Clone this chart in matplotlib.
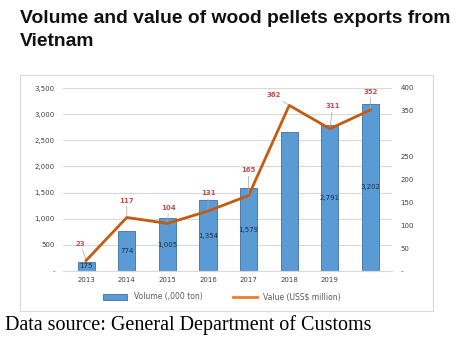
import matplotlib.pyplot as plt
from matplotlib.patches import Rectangle
from matplotlib.lines import Line2D
from matplotlib.patches import Patch

years = ['2013', '2014', '2015', '2016', '2017', '2018', '2019', '2020']
year_labels = ['2013', '2014', '2015', '2016', '2017', '2018', '2019', '']
volume = [175, 774, 1005, 1354, 1579, 2650, 2791, 3202]
volume_labels = ['175', '774', '1,005', '1,354', '1,579', '', '2,791', '3,202']
value = [23, 117, 104, 131, 165, 362, 311, 352]
# label offsets (points) for the value labels
value_offsets = [(-4, 10), (0, 10), (1, 9), (0, 11), (0, 16), (-11, 5), (2, 14), (0, 11)]

left_ticks = [0, 500, 1000, 1500, 2000, 2500, 3000, 3500]
left_tick_labels = ['-', '500', '1,000', '1,500', '2,000', '2,500', '3,000', '3,500']
right_ticks = [0, 50, 100, 150, 200, 250, 350, 400]
right_tick_labels = ['-', '50', '100', '150', '200', '250', '350', '400']

W, H = 463, 344
fig = plt.figure(figsize=(W / 100, H / 100), dpi=100)

def fx(px):
    return px / W

def fy(py):
    return 1 - py / H

fig.text(fx(20), fy(23), 'Volume and value of wood pellets exports from',
         fontsize=13.9, fontweight='bold', family='Liberation Sans',
         va='baseline', ha='left', color='#111111')
fig.text(fx(20), fy(46), 'Vietnam',
         fontsize=13.9, fontweight='bold', family='Liberation Sans',
         va='baseline', ha='left', color='#111111')

# chart border
fig.patches.append(Rectangle((fx(20), fy(311)), fx(433) - fx(20), fy(75) - fy(311),
                             transform=fig.transFigure, fill=False,
                             edgecolor='#d9d9d9', linewidth=0.8))

ax = fig.add_axes([fx(63), fy(271), fx(392) - fx(63), fy(88) - fy(271)])
ax2 = ax.twinx()

x = list(range(len(years)))
bars = ax.bar(x, volume, width=0.42, color='#5b9bd5', edgecolor='#41719c', linewidth=0.6, zorder=2)
ax.set_xlim(-0.57, 7.53)
ax.set_ylim(0, 3500)
ax.set_yticks(left_ticks)
ax.set_yticklabels(left_tick_labels)
ax.set_xticks(x)
ax.set_xticklabels(year_labels)
ax.grid(axis='y', color='#d9d9d9', linewidth=0.8, zorder=0)
ax.set_axisbelow(True)
for s in ['top', 'right', 'left']:
    ax.spines[s].set_visible(False)
ax.spines['bottom'].set_color('#d9d9d9')
ax.tick_params(axis='both', length=0, labelsize=5, colors='#404040', pad=6)
ax.tick_params(axis='x', pad=4)

for xi, v, lab in zip(x, volume, volume_labels):
    if lab:
        ax.text(xi, v / 2, lab, ha='center', va='center', fontsize=5, color='#1f2d3d', zorder=4)

ax2.plot(x, value, color='#c55a11', linewidth=2, zorder=3)
ax2.set_ylim(0, 400)
ax2.set_yticks(right_ticks)
ax2.set_yticklabels(right_tick_labels)
for s in ['top', 'right', 'left', 'bottom']:
    ax2.spines[s].set_visible(False)
ax2.tick_params(axis='y', length=0, labelsize=5, colors='#404040', pad=6)

for xi, v, off in zip(x, value, value_offsets):
    ax2.annotate(str(v), (xi, v), xytext=off, textcoords='offset points',
                 ha='center', va='bottom', fontsize=5, color='#c0504d',
                 fontweight='bold',
                 arrowprops=dict(arrowstyle='-', color='#a6a6a6', lw=0.5,
                                 shrinkA=0, shrinkB=1))

handles = [Patch(facecolor='#5b9bd5', edgecolor='#41719c', linewidth=0.6),
           Line2D([0], [0], color='#ed7d31', linewidth=2)]
fig.legend(handles, ['Volume (,000 ton)', 'Value (USS$ million)'],
           loc='center', bbox_to_anchor=(fx(222), fy(297)), ncol=2, frameon=False,
           fontsize=5.5, labelcolor='#595959', handlelength=3.2, handleheight=0.9,
           columnspacing=4, handletextpad=0.8)

fig.text(fx(5), fy(325), 'Data source: General Department of Customs',
         fontsize=14.5, family='Liberation Serif', va='center', ha='left', color='black')

fig.savefig('out.png', dpi=100)
